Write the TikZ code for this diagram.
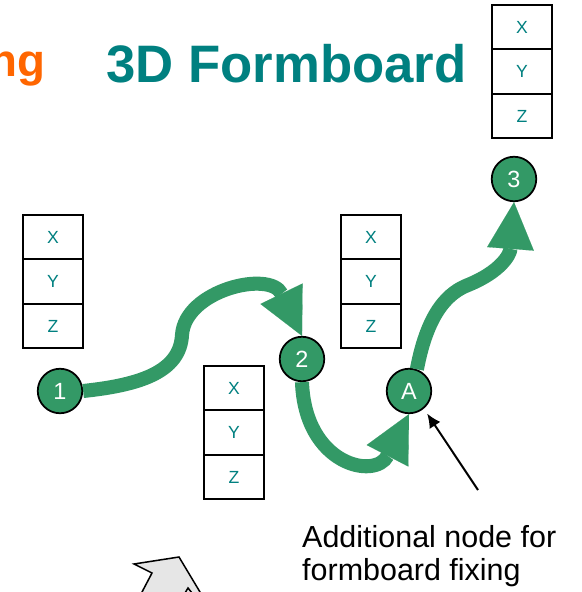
\documentclass[tikz,border=0pt]{standalone}
\usepackage{fontspec}
\setmainfont{Liberation Sans}
\usetikzlibrary{positioning,arrows.meta}
\definecolor{boardteal}{RGB}{0,128,128}
\definecolor{titleorange}{RGB}{255,102,0}
\definecolor{wiregreen}{RGB}{51,153,102}
\definecolor{hintgray}{RGB}{230,230,230}

\begin{document}
\begin{tikzpicture}[x=0.03cm,y=-0.03cm,
    cell/.style={draw,line width=1.8pt,minimum width=51pt,minimum height=38pt,inner sep=0pt,outer sep=0pt,text=boardteal,font=\fontsize{15}{17}\selectfont},
    pin/.style={circle,draw,line width=1.5pt,fill=wiregreen,minimum size=38pt,inner sep=0pt,text=white,font=\fontsize{20}{22}\selectfont},
    wire/.style={wiregreen,line width=12pt,-{Triangle[length=40pt,width=40pt,line width=0.1pt]}},
    pointer/.style={line width=1.7pt,-{Latex[length=12pt,width=11pt]}}]
    \useasboundingbox (0,0) rectangle (581,592);
    \clip (0,0) rectangle (581,592);
    \fill[white] (0,0) rectangle (581,592);

    \node[anchor=base east,inner sep=0pt,text=titleorange,font=\bfseries\fontsize{39}{44}\selectfont] (head) at (46,77) {ng};
    \node[anchor=base west,inner sep=0pt,text=boardteal,font=\bfseries\fontsize{45}{50}\selectfont] (title) at (106,83) {3D Formboard};

    % X/Y/Z stacks
    \foreach \s/\x/\y in {a/53/237,b/371/237,c/234/388,d/522/27}{
      \node[cell] (\s x) at (\x,\y) {X};
      \node[cell,below=0pt of \s x] (\s y) {Y};
      \node[cell,below=0pt of \s y] (\s z) {Z};
    }

    % wiring nodes
    \node[pin] (n1) at (60,391) {1};
    \node[pin] (n2) at (302,359) {2};
    \node[pin] (nA) at (409,391) {A};
    \node[pin] (n3) at (514,179) {3};

    \draw[wire] (n1.east) .. controls (140,385) and (180,372) .. (182,335)
                          .. controls (185,290) and (270,270) .. (n2.north);
    \draw[wire] (n2.south) .. controls (305,465) and (375,480) .. (nA.south);
    \draw[wire] (nA.70) .. controls (428,310) and (450,292) .. (468,285)
                        .. controls (500,272) and (510,255) .. (n3.south);

    \coordinate (tail) at (478,490);
    \draw[pointer,shorten >=5pt] (tail) -- (nA.-50);
    \node[anchor=base west,align=left,inner sep=0pt,font=\fontsize{26}{28}\selectfont] (note) at (302,580) {Additional node for\\formboard fixing};

    % hint arrow, cut off by the frame
    \fill[hintgray] (137.8,600) -- (152,573) -- (134,564) -- (179,557) -- (204.8,600) -- cycle;
    \draw[line width=1.3pt,line join=miter] (137.8,600) -- (152,573) -- (134,564) -- (179,557) -- (204.8,600);
    \draw[line width=1.3pt] (185,593) -- (188,588) -- (192,593);
\end{tikzpicture}
\end{document}
